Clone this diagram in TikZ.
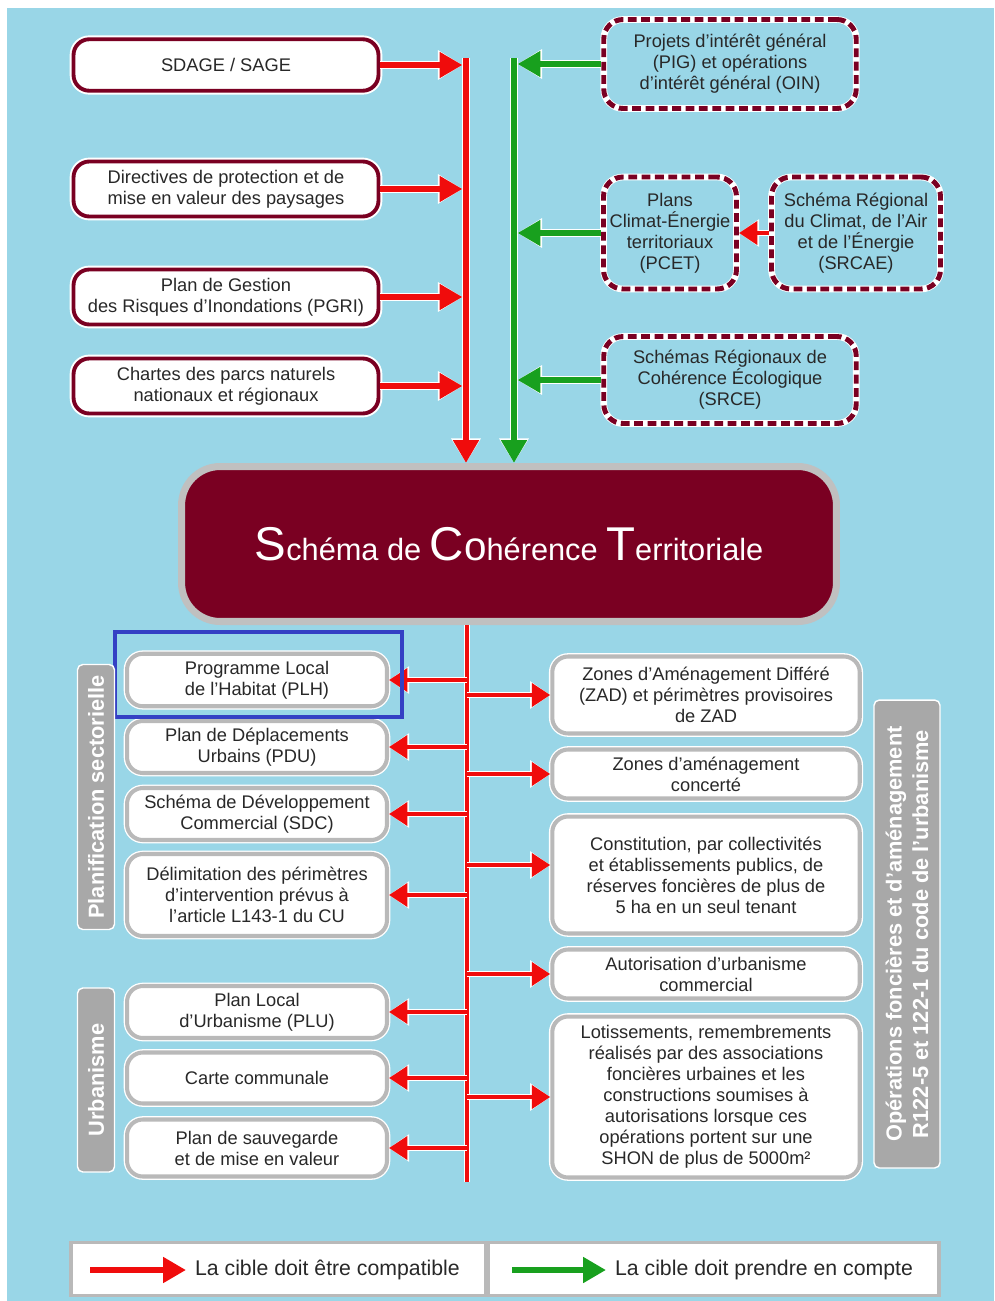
\documentclass[tikz,border=0pt]{standalone}
\usepackage{fontspec}
\setmainfont{Liberation Sans}
\usepackage{tikz}
\usetikzlibrary{arrows.meta}
\definecolor{bgblue}{RGB}{153,214,231}
\definecolor{scotred}{RGB}{122,0,34}
\definecolor{arrred}{RGB}{240,12,12}
\definecolor{arrgreen}{RGB}{24,160,30}
\definecolor{boxgray}{RGB}{185,185,185}
\definecolor{labgray}{RGB}{168,168,168}
\definecolor{txtgray}{RGB}{40,40,40}
\definecolor{hiblue}{RGB}{52,64,196}
\newcommand\scotcap[1]{{\fontsize{27}{30}\selectfont #1}}
\tikzstyle{every node}=[align=center, text=txtgray, inner sep=1pt, font=\fontsize{10.4}{12}\selectfont]
\tikzset{compat/.style={draw=scotred, line width=2.2pt, fill=white, rounded corners=9pt,
      minimum width=6.1cm, preaction={draw=white, line width=4.4pt}},
  dashbox/.style={draw=scotred, line width=2.8pt, dash pattern=on 5pt off 2.6pt, rounded corners=11pt,
      preaction={draw=white, line width=3.8pt, solid}},
  graybox/.style={draw=boxgray, line width=2.3pt, fill=white, rounded corners=9pt,
      preaction={draw=white, line width=3.8pt}},
  sidelab/.style={fill=labgray, draw=white, line width=0.8pt, rounded corners=3pt, rotate=90,
      text=white, font=\fontsize{12.4}{15}\selectfont\bfseries},
  legbox/.style={draw=boxgray, line width=2pt, fill=white, minimum height=1.06cm},
  redarrow/.style={draw=arrred, line width=3.4pt, -{Triangle[length=13pt,width=14pt]},
      preaction={draw=white, line width=4.8pt, -{Triangle[length=14pt,width=16pt]}}},
  greenarrow/.style={draw=arrgreen, line width=3.4pt, -{Triangle[length=13pt,width=14pt]},
      preaction={draw=white, line width=4.8pt, -{Triangle[length=14pt,width=16pt]}}},
  smallarrow/.style={draw=arrred, line width=2.6pt, -{Triangle[length=10.5pt,width=13pt]},
      preaction={draw=white, line width=3.9pt, -{Triangle[length=11.5pt,width=15pt]}}},
  trunk/.style={draw=arrred, line width=2.6pt, preaction={draw=white, line width=3.8pt}},
  hilite/.style={draw=hiblue, line width=2.8pt}}

\begin{document}
\begin{tikzpicture}[x=0.02cm, y=-0.02cm]
  \useasboundingbox (0,0) rectangle (994,1301);
  \fill[white] (0,0) rectangle (994,1301);
  \fill[bgblue] (7,8) rectangle (994,1301);

  \node[compat, minimum height=1.03cm] (sdage) at (226,65) {SDAGE / SAGE};
  \node[compat, minimum height=1.1cm] (dir) at (226,189) {Directives de protection et de\\mise en valeur des paysages};
  \node[compat, minimum height=1.1cm] (pgri) at (226,297) {Plan de Gestion\\des Risques d'Inondations (PGRI)};
  \node[compat, minimum height=1.1cm] (chartes) at (226,386) {Chartes des parcs naturels\\nationaux et régionaux};

  \node[dashbox, minimum width=5.05cm, minimum height=1.78cm] (pig) at (730,64) {Projets d'intérêt général\\(PIG) et opérations\\d'intérêt général (OIN)};
  \node[dashbox, minimum width=2.66cm, minimum height=2.24cm] (pcet) at (670,233) {Plans\\Climat-Énergie\\territoriaux\\(PCET)};
  \node[dashbox, minimum width=3.38cm, minimum height=2.24cm] (srcae) at (856,233) {Schéma Régional\\du Climat, de l'Air\\et de l'Énergie\\(SRCAE)};
  \node[dashbox, minimum width=5.05cm, minimum height=1.74cm] (srce) at (730,380) {Schémas Régionaux de\\Cohérence Écologique\\(SRCE)};

  \node[fill=scotred, draw=boxgray!90, line width=4pt, rounded corners=22pt, minimum width=13.1cm,
    minimum height=3.1cm, text=white, font=\fontsize{17.5}{20}\selectfont] (scot) at (509,544)
    {\scotcap{S}chéma de \scotcap{C}{\fontsize{23}{26}\selectfont o}hérence \scotcap{T}erritoriale};

  \coordinate (rtop) at (466,58);
  \coordinate (gtop) at (514,58);
  \draw[redarrow] (rtop) -- (rtop |- scot.north);
  \draw[greenarrow] (gtop) -- (gtop |- scot.north);
  \draw[redarrow, shorten >=2pt] (sdage) -- (sdage -| rtop);
  \draw[redarrow, shorten >=2pt] (dir) -- (dir -| rtop);
  \draw[redarrow, shorten >=2pt] (pgri) -- (pgri -| rtop);
  \draw[redarrow, shorten >=2pt] (chartes) -- (chartes -| rtop);
  \draw[greenarrow, shorten >=2pt] (pig) -- (pig -| gtop);
  \draw[greenarrow, shorten >=2pt] (pcet) -- (pcet -| gtop);
  \draw[greenarrow, shorten >=2pt] (srce) -- (srce -| gtop);
  \draw[smallarrow] (srcae) -- (pcet);

  \node[graybox, minimum width=5.2cm, minimum height=1.05cm] (plh) at (257,680) {Programme Local\\de l'Habitat (PLH)};
  \node[graybox, minimum width=5.2cm, minimum height=1.04cm] (pdu) at (257,747) {Plan de Déplacements\\Urbains (PDU)};
  \node[graybox, minimum width=5.2cm, minimum height=1.04cm] (sdc) at (257,814) {Schéma de Développement\\Commercial (SDC)};
  \node[graybox, minimum width=5.2cm, minimum height=1.64cm] (delim) at (257,895) {Délimitation des périmètres\\d'intervention prévus à\\l'article L143-1 du CU};
  \node[graybox, minimum width=5.2cm, minimum height=1.04cm] (plu) at (257,1012) {Plan Local\\d'Urbanisme (PLU)};
  \node[graybox, minimum width=5.2cm, minimum height=1.02cm] (carte) at (257,1078) {Carte communale};
  \node[graybox, minimum width=5.2cm, minimum height=1.14cm] (psmv) at (257,1148) {Plan de sauvegarde\\et de mise en valeur};

  \node[graybox, minimum width=6.15cm, minimum height=1.54cm] (zad) at (706,695) {Zones d'Aménagement Différé\\(ZAD) et périmètres provisoires\\de ZAD};
  \node[graybox, minimum width=6.15cm, minimum height=0.98cm] (zac) at (706,774) {Zones d'aménagement\\concerté};
  \node[graybox, minimum width=6.15cm, minimum height=2.34cm] (constit) at (706,875) {Constitution, par collectivités\\et établissements publics, de\\réserves foncières de plus de\\5 ha en un seul tenant};
  \node[graybox, minimum width=6.15cm, minimum height=0.98cm] (autor) at (706,974) {Autorisation d'urbanisme\\commercial};
  \node[graybox, minimum width=6.15cm, minimum height=3.22cm] (lotis) at (706,1097) {Lotissements, remembrements\\réalisés par des associations\\foncières urbaines et les\\constructions soumises à\\autorisations lorsque ces\\opérations portent sur une\\SHON de plus de 5000m²};

  \coordinate (ttop) at (467,625);
  \coordinate (tbot) at (467,1182);
  \draw[trunk] (ttop) -- (tbot);
  \draw[smallarrow] (plh -| ttop) -- (plh);
  \draw[smallarrow] (pdu -| ttop) -- (pdu);
  \draw[smallarrow] (sdc -| ttop) -- (sdc);
  \draw[smallarrow] (delim -| ttop) -- (delim);
  \draw[smallarrow] (plu -| ttop) -- (plu);
  \draw[smallarrow] (carte -| ttop) -- (carte);
  \draw[smallarrow] (psmv -| ttop) -- (psmv);
  \draw[smallarrow] (zad -| ttop) -- (zad);
  \draw[smallarrow] (zac -| ttop) -- (zac);
  \draw[smallarrow] ([yshift=0.2cm]constit.center -| ttop) -- ([yshift=0.2cm]constit.west);
  \draw[smallarrow] (autor -| ttop) -- (autor);
  \draw[smallarrow] (lotis -| ttop) -- (lotis);

  \draw[hilite] (115,632) rectangle (402,717);

  \node[sidelab, minimum width=5.3cm, minimum height=0.74cm] (planif) at (96,797) {Planification sectorielle};
  \node[sidelab, minimum width=3.68cm, minimum height=0.74cm] (urba) at (96,1080) {Urbanisme};
  \node[sidelab, minimum width=9.36cm, minimum height=1.32cm] (ops) at (907,934) {Opérations foncières et d'aménagement\\R122-5 et 122-1 du code de l'urbanisme};

  \node[legbox, minimum width=8.3cm] (leg1) at (278.5,1269) {};
  \node[legbox, minimum width=9.02cm] (leg2) at (713.5,1269) {};
  \node[anchor=west, font=\fontsize{12.1}{14}\selectfont] (lt1) at (193,1270) {La cible doit être compatible};
  \node[anchor=west, font=\fontsize{12.1}{14}\selectfont] (lt2) at (613,1270) {La cible doit prendre en compte};
  \coordinate (la1) at (90,1270);
  \coordinate (la2) at (512,1270);
  \draw[redarrow, shorten >=4pt] (la1) -- (lt1.west);
  \draw[greenarrow, shorten >=4pt] (la2) -- (lt2.west);
\end{tikzpicture}
\end{document}
